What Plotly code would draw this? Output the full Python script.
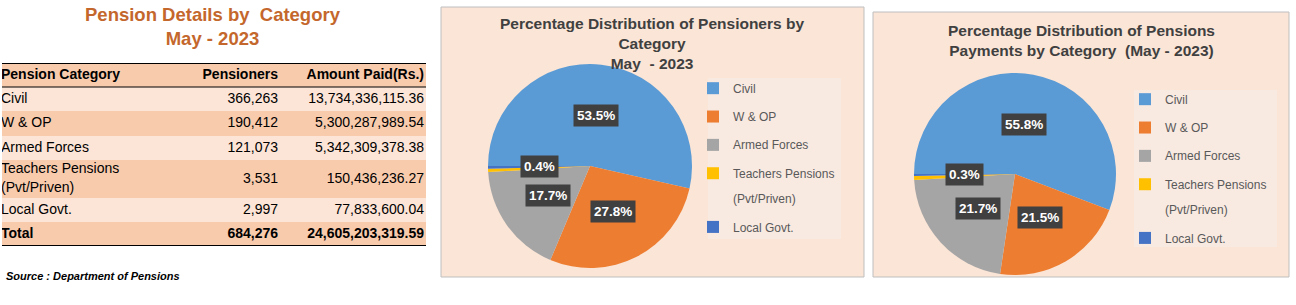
import math
import plotly.graph_objects as go

W, H = 1296, 305

# ---------------- data ----------------
categories = ["Civil", "W & OP", "Armed Forces", "Teachers Pensions (Pvt/Priven)", "Local Govt."]
table_categories = ["Civil", "W & OP", "Armed Forces", "Teachers Pensions<br>(Pvt/Priven)", "Local Govt."]
table_headers = ["Pension Category", "Pensioners", "Amount Paid(Rs.)"]
pensioners = [366263, 190412, 121073, 3531, 2997]
amount_paid = [13734336115.36, 5300287989.54, 5342309378.38, 150436236.27, 77833600.04]
total_label = "Total"
colors = ["#5B9BD5", "#ED7D31", "#A5A5A5", "#FFC000", "#4472C4"]
labelled = [True, True, True, False, True]   # Teachers slice label not shown in the original


def px_x(x):
    return x / W


def px_y(y):
    return 1 - y / H


FONT = "Liberation Sans, Arial, sans-serif"

fig = go.Figure()
shapes = []
annotations = []

# ---------------- table (drawn on a hidden cartesian axis) ----------------
TBL_X0, TBL_X1, TBL_Y0 = 2, 426, 63
row_heights = [24, 24, 25, 24, 38, 24, 24]          # header + 5 rows + total (style)
tbl_h = sum(row_heights)
light, dark = "#FCE4D6", "#F8CBAD"
row_fill = [dark, light, dark, light, dark, light, dark]

tot_p = sum(pensioners)
tot_a = sum(amount_paid)
col1 = [f"<b>{table_headers[0]}</b>"] + table_categories + [f"<b>{total_label}</b>"]
col2 = [f"<b>{table_headers[1]}</b>"] + [f"{v:,}" for v in pensioners] + [f"<b>{tot_p:,}</b>"]
col3 = [f"<b>{table_headers[2]}</b>"] + [f"{v:,.2f}" for v in amount_paid] + [f"<b>{tot_a:,.2f}</b>"]

bounds = [0]
for h in row_heights:
    bounds.append(bounds[-1] + h)
mids = [(bounds[i] + bounds[i + 1]) / 2 for i in range(len(row_heights))]
tbl_w = TBL_X1 - TBL_X0

for i in range(len(row_heights)):
    shapes.append(dict(type="rect", xref="x", yref="y", layer="below",
                       x0=0, x1=tbl_w, y0=bounds[i], y1=bounds[i + 1],
                       fillcolor=row_fill[i], line=dict(width=0)))

col_anchor = [(1, "middle right"), (278, "middle left"), (424, "middle left")]
for vals, (xa, pos) in zip([col1, col2, col3], col_anchor):
    fig.add_trace(go.Scatter(
        x=[xa - TBL_X0] * len(vals), y=mids, mode="text", text=vals,
        textposition=pos, textfont=dict(family=FONT, size=14, color="#000000"),
        hoverinfo="skip", showlegend=False, xaxis="x", yaxis="y",
    ))

for yy, wdt in [(bounds[0], 2), (bounds[1], 1), (bounds[-1], 2)]:
    shapes.append(dict(type="line", xref="x", yref="y", layer="above",
                       x0=0, x1=tbl_w, y0=yy, y1=yy,
                       line=dict(color="#000000", width=wdt)))

# ---------------- pies ----------------
pies = [
    dict(values=pensioners, cx=590, cy=166, r=102, legend="legend",
         box=(441, 7, 864, 277), legbox=(708, 78, 841, 239),
         title="<b>Percentage Distribution of Pensioners by<br>Category<br>May  - 2023</b>",
         tx=652, ty=44, style="font-size:12px;baseline-shift:3px",
         lx=693, ly=69),
    dict(values=amount_paid, cx=1015, cy=174, r=101, legend="legend2",
         box=(873, 12, 1289, 277), legbox=(1134, 90, 1277, 247),
         title="<b>Percentage Distribution of Pensions<br>Payments by Category  (May - 2023)</b>",
         tx=1081, ty=40, style="font-size: 12px; baseline-shift: 3px",
         lx=1125, ly=80),
]

ROT = -90
legends = {}
for p in pies:
    x0, y0, x1, y1 = p["box"]
    shapes.append(dict(type="rect", xref="paper", yref="paper", layer="below",
                       x0=px_x(x0), x1=px_x(x1), y0=px_y(y1), y1=px_y(y0),
                       fillcolor="#FBE5D6", line=dict(color="#BFBFBF", width=1)))
    lx0, ly0, lx1, ly1 = p["legbox"]
    shapes.append(dict(type="rect", xref="paper", yref="paper", layer="below",
                       x0=px_x(lx0), x1=px_x(lx1), y0=px_y(ly1), y1=px_y(ly0),
                       fillcolor="#F8E9E1", line=dict(width=0)))
    cx, cy, r = p["cx"], p["cy"], p["r"]
    fig.add_trace(go.Pie(
        labels=[f'<span style="{p["style"]}">{c.replace(" (", "<br>(")}</span>' for c in categories],
        values=p["values"],
        marker=dict(colors=colors, line=dict(width=0)),
        sort=False, direction="clockwise", rotation=ROT,
        textinfo="none", hoverinfo="percent",
        domain=dict(x=[px_x(cx - r), px_x(cx + r)], y=[px_y(cy + r), px_y(cy - r)]),
        legend=p["legend"],
        showlegend=True,
    ))
    legends[p["legend"]] = dict(
        x=px_x(p["lx"]), y=px_y(p["ly"]), xanchor="left", yanchor="top",
        font=dict(family=FONT, size=19.5, color="#595959"), bgcolor="rgba(0,0,0,0)",
        itemwidth=30, itemclick=False, valign="top")
    annotations.append(dict(x=px_x(p["tx"]), y=px_y(p["ty"]), xref="paper", yref="paper",
                            text=p["title"], showarrow=False, xanchor="center", yanchor="middle",
                            font=dict(family=FONT, size=15.5, color="#404040")))
    total = sum(p["values"])
    cum = 0
    for v, show in zip(p["values"], labelled):
        frac = v / total
        mid = ROT + (cum + frac / 2) * 360
        cum += frac
        if not show:
            continue
        a = math.radians(mid)
        kx = cx + 0.5 * r * math.sin(a)
        ky = cy - 0.5 * r * math.cos(a)
        annotations.append(dict(x=px_x(kx), y=px_y(ky), xref="paper", yref="paper",
                                xanchor="center", yanchor="middle",
                                text=f"<b>{frac * 100:.1f}%</b>", showarrow=False,
                                bgcolor="#404040", borderpad=3,
                                font=dict(family=FONT, size=13.5, color="#FFFFFF")))

# table title and source
annotations.append(dict(x=px_x(213), y=px_y(26), xref="paper", yref="paper", showarrow=False,
                        xanchor="center", yanchor="middle",
                        text="<b>Pension Details by  Category<br>May - 2023</b>",
                        font=dict(family=FONT, size=18.5, color="#C4672C")))
annotations.append(dict(x=px_x(4), y=px_y(276), xref="paper", yref="paper", showarrow=False,
                        xanchor="left", yanchor="middle",
                        text="<b><i>Source : Department of Pensions</i></b>",
                        font=dict(family=FONT, size=11, color="#000000")))

fig.update_layout(
    width=W, height=H, margin=dict(l=0, r=0, t=0, b=0),
    paper_bgcolor="#FFFFFF", plot_bgcolor="rgba(0,0,0,0)",
    xaxis=dict(domain=[px_x(TBL_X0), px_x(TBL_X1)], range=[0, tbl_w], visible=False, fixedrange=True),
    yaxis=dict(domain=[px_y(TBL_Y0 + tbl_h), px_y(TBL_Y0)], range=[tbl_h, 0], visible=False, fixedrange=True),
    shapes=shapes, annotations=annotations,
    legend=legends["legend"],
    legend2=legends["legend2"],
)

fig.write_html("out.html")
